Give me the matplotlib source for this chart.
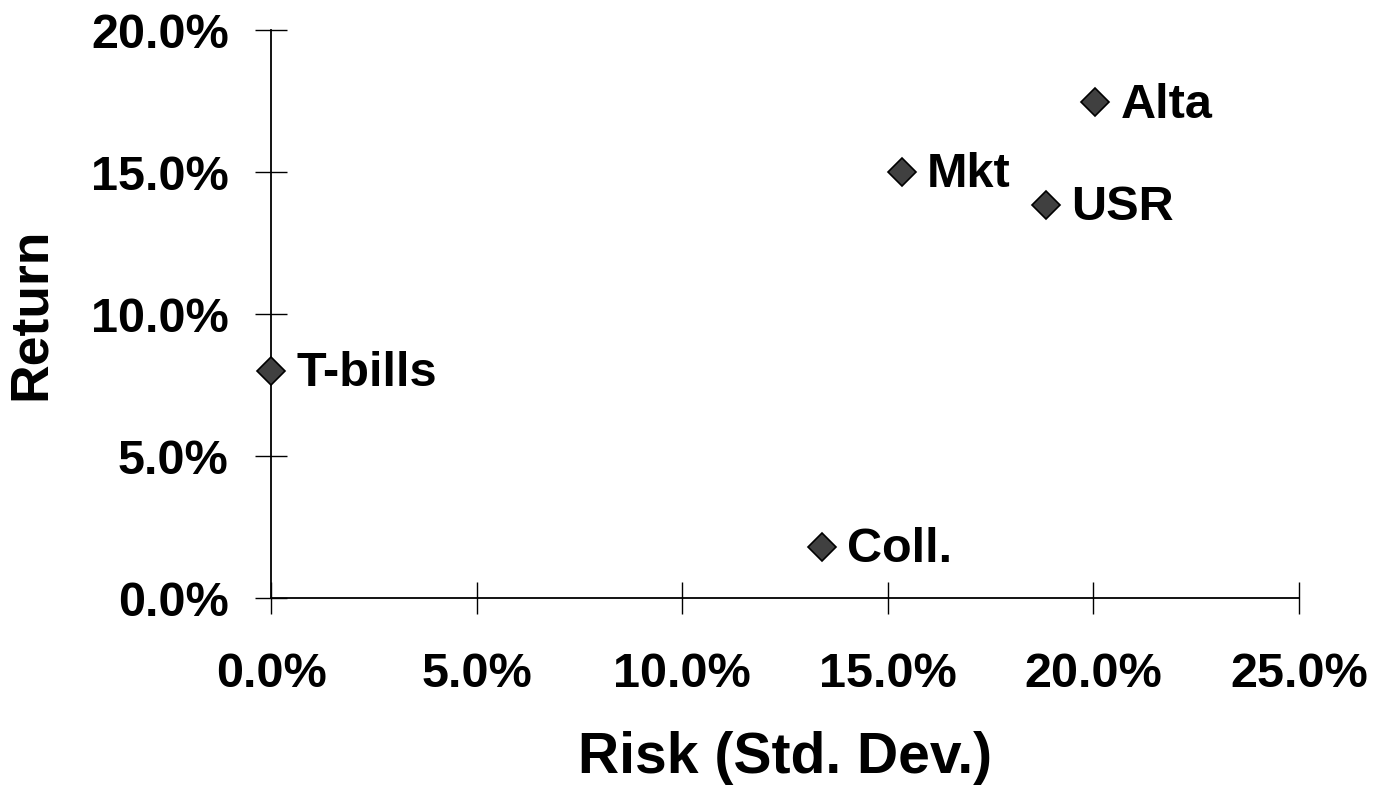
import matplotlib
matplotlib.use("Agg")
import matplotlib.pyplot as plt
from matplotlib.ticker import FuncFormatter, MultipleLocator

plt.rcParams['font.family'] = ['Liberation Sans', 'DejaVu Sans']
plt.rcParams['font.weight'] = 'bold'

# Portfolio risk/return data (percent)
names = ["T-bills", "Coll.", "Mkt", "USR", "Alta"]
risk = [0.0, 13.4, 15.35, 18.85, 20.05]
ret = [8.0, 1.8, 15.0, 13.85, 17.45]

fig = plt.figure(figsize=(13.73, 7.9), dpi=100)
ax = fig.add_axes([0.1974, 0.243, 0.9461 - 0.1974, 0.962 - 0.243])

ax.plot(risk, ret, linestyle='none', marker='D', markersize=14,
        markerfacecolor='#404040', markeredgecolor='black', markeredgewidth=1.2,
        clip_on=False, zorder=5)

for name, x, y in zip(names, risk, ret):
    ax.annotate(name, (x, y), xytext=(18, -11), textcoords='offset points',
                ha='left', va='baseline', fontsize=35, fontweight='bold')

ax.set_xlim(0, 25)
ax.set_ylim(0, 20)
ax.xaxis.set_major_locator(MultipleLocator(5))
ax.yaxis.set_major_locator(MultipleLocator(5))
pct = FuncFormatter(lambda v, p: f"{v:.1f}%")
ax.xaxis.set_major_formatter(pct)
ax.yaxis.set_major_formatter(pct)

for side in ('top', 'right'):
    ax.spines[side].set_visible(False)
for side in ('left', 'bottom'):
    ax.spines[side].set_linewidth(1.3)

ax.tick_params(axis='x', direction='inout', length=23, width=1.0, pad=27,
               labelsize=35)
ax.tick_params(axis='y', direction='inout', length=23, width=1.0, pad=19,
               labelsize=35)
for lbl in ax.get_xticklabels() + ax.get_yticklabels():
    lbl.set_fontweight('bold')

ax.set_xlabel("Risk (Std. Dev.)", fontsize=41, fontweight='bold', labelpad=25)
ax.set_ylabel("Return", fontsize=38.5, fontweight='bold', labelpad=25)

fig.savefig("out.png", dpi=100, facecolor='white')
